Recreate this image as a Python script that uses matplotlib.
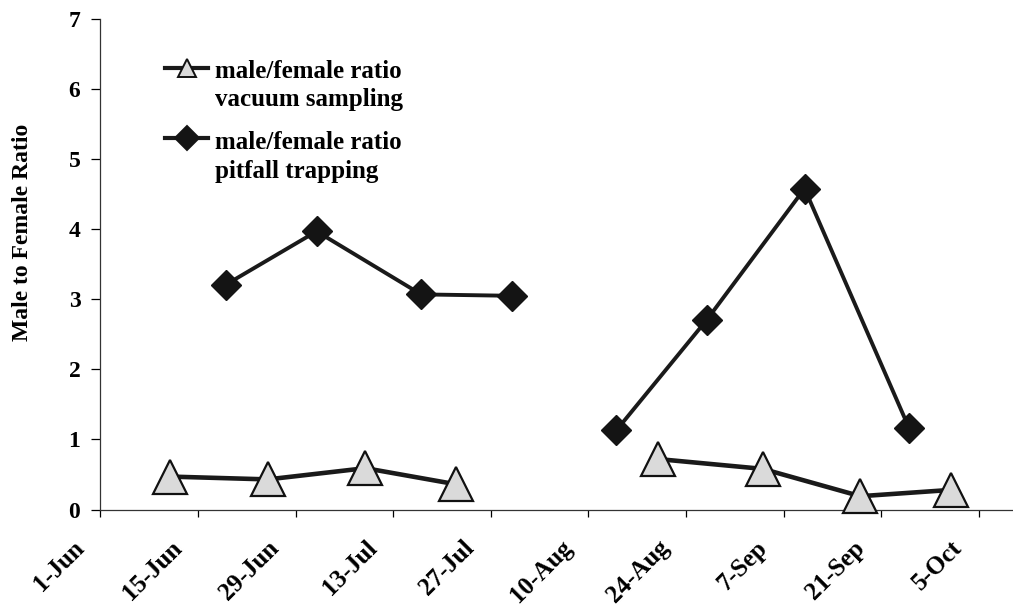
import numpy as np
import matplotlib
matplotlib.use("Agg")
import matplotlib.pyplot as plt
import matplotlib.dates as mdates
from matplotlib.lines import Line2D
from matplotlib.transforms import ScaledTranslation

# Sampling dates and male/female ratios (two sampling periods per method)
vacuum_dates_early = ["2000-06-11", "2000-06-25", "2000-07-09", "2000-07-22"]
vacuum_ratio_early = [0.47, 0.43, 0.59, 0.36]
vacuum_dates_late = ["2000-08-20", "2000-09-04", "2000-09-18", "2000-10-01"]
vacuum_ratio_late = [0.72, 0.58, 0.19, 0.28]

pitfall_dates_early = ["2000-06-19", "2000-07-02", "2000-07-17", "2000-07-30"]
pitfall_ratio_early = [3.21, 3.97, 3.07, 3.05]
pitfall_dates_late = ["2000-08-14", "2000-08-27", "2000-09-10", "2000-09-25"]
pitfall_ratio_late = [1.13, 2.71, 4.58, 1.16]

tick_dates = ["2000-06-01", "2000-06-15", "2000-06-29", "2000-07-13", "2000-07-27",
              "2000-08-10", "2000-08-24", "2000-09-07", "2000-09-21", "2000-10-05"]
tick_labels = ["1-Jun", "15-Jun", "29-Jun", "13-Jul", "27-Jul",
               "10-Aug", "24-Aug", "7-Sep", "21-Sep", "5-Oct"]

legend_vacuum = "male/female ratio\nvacuum sampling"
legend_pitfall = "male/female ratio\npitfall trapping"
y_label = "Male to Female Ratio"

plt.rcParams["font.family"] = ["Liberation Serif", "DejaVu Serif"]
plt.rcParams["font.weight"] = "bold"

fig = plt.figure(figsize=(10.13, 6.13), dpi=100)
ax = fig.add_axes([0.0992, 0.1688, 0.9008, 0.8002])

to_dt = lambda seq: np.array(seq, dtype="datetime64[D]")

line_col = "#1a1a1a"
tri_style = dict(color=line_col, lw=3.3, marker="^", ms=24, mfc="#dadada",
                 mec="#111111", mew=1.6, zorder=3, clip_on=False)
dia_style = dict(color=line_col, lw=2.8, marker="D", ms=15, mfc="#141414",
                 mec="#141414", mew=1, zorder=4, clip_on=False)

ax.plot(to_dt(pitfall_dates_early), pitfall_ratio_early, **dia_style)
ax.plot(to_dt(pitfall_dates_late), pitfall_ratio_late, **dia_style)
ax.plot(to_dt(vacuum_dates_early), vacuum_ratio_early, **tri_style)
ax.plot(to_dt(vacuum_dates_late), vacuum_ratio_late, **tri_style)

# Axis limits and ticks
start = np.datetime64("2000-06-01")
ax.set_xlim(mdates.date2num(start), mdates.date2num(start) + 130.9)
ax.set_ylim(0, 7)
ax.set_yticks(range(0, 8))
ax.set_xticks(to_dt(tick_dates))

ax.tick_params(axis="y", length=6.5, width=0.9, pad=8, labelsize=17, direction="out")
ax.tick_params(axis="x", length=5, width=0.9, pad=2, direction="out")

ax.set_xticklabels(tick_labels, rotation=45, ha="right", va="center",
                   rotation_mode="anchor", fontsize=18, fontweight="bold")
# Shift the slanted date labels down and to the left of their ticks
shift = ScaledTranslation(-0.20, -0.25, fig.dpi_scale_trans)
for tick in ax.xaxis.get_major_ticks():
    tick.label1.set_transform(tick.label1.get_transform() + shift)
for lab in ax.get_yticklabels():
    lab.set_fontweight("bold")

for side in ("top", "right"):
    ax.spines[side].set_visible(False)
for side in ("left", "bottom"):
    ax.spines[side].set_linewidth(0.9)
    ax.spines[side].set_color("#333333")

ax.set_ylabel(y_label, fontsize=17, fontweight="bold")
ax.yaxis.set_label_coords(-0.074, 0.564)

# Legend keys drawn in axes fraction coordinates
def legend_entry(y_key, y_text, style, ms, text):
    ax.add_line(Line2D([0.0707, 0.1178], [y_key, y_key], transform=ax.transAxes,
                       color=line_col, lw=3.0, clip_on=False, zorder=5))
    ax.add_line(Line2D([0.0948], [y_key], transform=ax.transAxes, marker=style["marker"],
                       ms=ms, mfc=style["mfc"], mec=style["mec"], mew=1.4,
                       linestyle="none", clip_on=False, zorder=6))
    ax.text(0.1255, y_text, text, transform=ax.transAxes, ha="left", va="baseline",
            fontsize=18, fontweight="bold", linespacing=1.3)

legend_entry(0.900, 0.8226, tri_style, 13, legend_vacuum)
legend_entry(0.757, 0.6762, dia_style, 12.5, legend_pitfall)

fig.savefig("out.png", dpi=100, facecolor="white")
